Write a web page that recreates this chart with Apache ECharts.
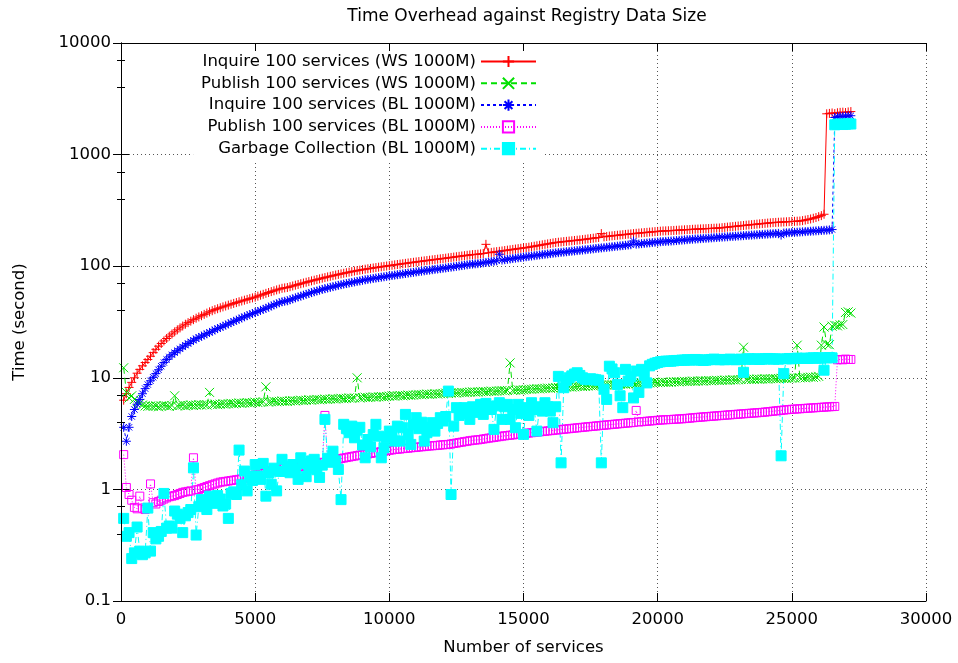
<!DOCTYPE html>
<html>
<head>
<meta charset="utf-8">
<script src="https://cdn.jsdelivr.net/npm/echarts/dist/echarts.min.js"></script>
<style>
  html, body { margin: 0; padding: 0; background: #fff; }
  #chart { width: 958px; height: 663px; }
</style>
</head>
<body>
<div id="chart"></div>
<script>
// one measurement every 100 services, first at 100
var STEP = 100;

// Inquire 100 services (WS 1000M)
var inquireWS = [
  6.3, 7.2, 8.2, 9.1, 10.0, 11.0, 11.9, 12.8, 13.7, 14.6,
  15.6, 16.8, 18.0, 19.2, 20.3, 21.4, 22.5, 23.6, 24.7, 25.8,
  26.9, 28.0, 29.1, 30.2, 31.2, 32.2, 33.2, 34.2, 35.1, 36.0,
  37.0, 38.0, 39.0, 39.9, 40.8, 41.6, 42.4, 43.2, 44.0, 44.8,
  45.6, 46.4, 47.2, 48.0, 48.8, 49.6, 50.4, 51.2, 52.0, 52.8,
  53.9, 55.0, 56.0, 57.1, 58.1, 59.2, 60.2, 61.3, 62.3, 63.4, 63.9,
  64.4, 65.5, 66.5, 67.6, 68.6, 69.7, 70.7, 71.8, 72.8, 73.9,
  74.9, 76.0, 77.0, 78.1, 79.1, 80.2, 81.2, 82.3, 83.3, 84.4,
  85.4, 86.4, 87.4, 88.4, 89.4, 90.4, 91.3, 92.2, 93.1, 94.0,
  94.8, 95.6, 96.4, 97.2, 98.0, 98.8, 99.6, 100.4, 101.2, 102.0,
  102.8, 103.6, 104.4, 105.2, 106.0, 106.8, 107.6, 108.4, 109.2, 110.0,
  110.8, 111.6, 112.4, 113.2, 114.0, 114.8, 115.6, 116.4, 117.2, 118.0,
  118.9, 119.8, 120.7, 121.6, 122.5, 123.4, 124.3, 125.2, 126.1, 127.0, 127.5,
  128.0, 129.0, 130.0, 157.0, 132.0, 133.0, 134.0, 135.0, 136.0, 137.0,
  138.1, 139.2, 140.3, 141.4, 142.5, 143.6, 144.7, 145.8, 146.9, 148.0,
  149.5, 151.0, 152.5, 154.0, 155.5, 157.0, 158.5, 160.0, 161.5, 163.0,
  164, 165, 166, 167, 168, 169, 170, 171, 172, 173,
  174.3, 175.6, 176.9, 178.2, 179.5, 180.8, 196.0, 183.4, 184.7, 186.0,
  187.1, 188.2, 189.3, 190.4, 191.5, 192.6, 193.7, 194.8, 195.9, 197.0,
  198, 199, 200, 201, 202, 203, 204, 205, 206, 207, 207.3,
  207.7, 208.4, 209.1, 209.8, 210.5, 211.2, 211.9, 212.6, 213.3, 214.0,
  214.6, 215.2, 215.8, 216.4, 217.0, 217.6, 218.2, 218.8, 219.4, 220.0,
  221.3, 222.6, 223.9, 225.2, 226.5, 227.8, 229.1, 230.4, 231.7, 233.0,
  234.3, 235.6, 236.9, 238.2, 239.5, 240.8, 242.1, 243.4, 244.7, 246.0,
  246.8, 247.6, 248.4, 249.2, 250.0, 250.8, 251.6, 252.4, 253.2, 254.0,
  256, 259, 262, 265, 269, 273, 278, 284, 292, 2320,
  2340, 2360, 2330, 2370, 2390, 2400, 2380, 2410, 2430
];

// Publish 100 services (WS 1000M)
var publishWS = [
  12.3, 7.4, 6.6, 6.9, 6.4, 6.1, 5.9, 5.7, 5.6, 5.55,
  5.6, 5.55, 5.6, 5.5, 5.6, 5.65, 5.6, 5.55, 5.65, 6.9,
  5.6, 5.65, 5.7, 5.6, 5.65, 5.7, 5.65, 5.7, 5.75, 5.7,
  5.75, 5.7, 7.4, 5.75, 5.8, 5.75, 5.8, 5.85, 5.8, 5.85,
  5.9, 5.85, 5.9, 5.95, 5.9, 5.95, 6.0, 5.95, 6.0, 6.05,
  6.0, 6.05, 6.1, 8.3, 6.05, 6.1, 6.15, 6.1, 6.15, 6.2, 6.15,
  6.15, 6.2, 6.25, 6.2, 6.25, 6.3, 6.25, 6.3, 6.35, 6.3,
  6.35, 6.4, 6.35, 6.4, 6.45, 6.4, 6.45, 6.5, 6.45, 6.5,
  6.55, 6.5, 6.55, 6.6, 6.55, 6.6, 10.0, 6.6, 6.65, 6.7,
  6.65, 6.7, 6.75, 6.7, 6.75, 6.8, 6.75, 6.8, 6.85, 6.9,
  6.85, 6.9, 6.95, 6.9, 6.95, 7.0, 6.95, 7.0, 7.05, 7.1,
  7.05, 7.1, 7.15, 7.1, 7.15, 7.2, 7.15, 7.2, 7.25, 7.3,
  7.25, 7.3, 7.35, 7.3, 7.35, 7.4, 7.35, 7.4, 7.45, 7.5, 7.45,
  7.45, 7.5, 7.55, 7.5, 7.55, 7.6, 7.55, 7.6, 7.65, 7.7,
  7.65, 7.7, 13.6, 7.7, 7.75, 7.8, 7.75, 7.8, 7.85, 7.9,
  7.9, 7.95, 8.0, 7.95, 8.0, 8.05, 8.1, 8.05, 8.1, 8.15,
  8.2, 8.15, 8.2, 8.25, 8.3, 8.25, 8.3, 8.35, 8.4, 8.35,
  8.4, 8.45, 8.5, 8.45, 8.5, 8.55, 8.6, 8.55, 8.6, 8.65,
  8.7, 8.65, 8.7, 8.75, 8.8, 8.75, 8.8, 8.85, 8.9, 8.85,
  8.9, 8.95, 9.0, 8.95, 9.0, 9.05, 9.1, 9.05, 9.1, 9.15, 9.1,
  9.1, 9.15, 9.2, 9.25, 9.2, 9.25, 9.3, 9.25, 9.3, 9.35,
  9.3, 9.35, 9.4, 9.35, 9.4, 9.45, 9.4, 9.45, 9.5, 9.45,
  9.5, 9.55, 9.5, 9.55, 9.6, 9.55, 9.6, 9.65, 18.8, 9.65,
  9.7, 9.65, 9.7, 9.75, 9.7, 9.75, 9.8, 9.75, 9.8, 9.85,
  9.8, 9.85, 9.9, 9.85, 9.9, 9.95, 9.9, 9.95, 19.6, 10.0,
  10.05, 10.0, 10.1, 10.15, 10.1, 10.2, 10.3, 19.6, 28.5, 20.0,
  19.8, 29.0, 29.5, 29.2, 29.8, 30.0, 38.5, 39.0, 38.0
];

// Inquire 100 services (BL 1000M)
var inquireBL = [
  3.6, 2.7, 3.6, 4.5, 5.2, 5.8, 6.4, 7.2, 8.0, 8.7,
  9.4, 10.1, 10.9, 11.8, 12.7, 13.7, 14.6, 15.4, 16.1, 16.8,
  17.5, 18.2, 18.9, 19.6, 20.3, 21.0, 21.7, 22.4, 23.0, 23.6,
  24.2, 24.8, 25.5, 26.2, 26.9, 27.6, 28.3, 29.0, 29.7, 30.4,
  31.2, 32.0, 32.8, 33.6, 34.4, 35.2, 36.0, 36.8, 37.6, 38.4,
  39.3, 40.2, 41.1, 42.0, 43.0, 44.0, 45.0, 46.0, 47.0, 48.0, 48.5,
  49.0, 50.0, 51.0, 52.0, 53.0, 54.0, 55.0, 56.0, 57.0, 58.0,
  59.0, 60.0, 61.0, 62.0, 62.9, 63.8, 64.7, 65.6, 66.5, 67.4,
  68.3, 69.1, 69.9, 70.7, 71.5, 72.3, 73.1, 73.9, 74.7, 75.5,
  76.2, 76.9, 77.6, 78.3, 79.0, 79.7, 80.4, 81.1, 81.8, 82.5,
  83.2, 83.9, 84.6, 85.3, 86.0, 86.7, 87.4, 88.1, 88.8, 89.5,
  90.2, 90.9, 91.6, 92.3, 93.0, 93.7, 94.4, 95.1, 95.8, 96.5,
  97.3, 98.1, 98.9, 99.7, 100.5, 101.3, 102.1, 102.9, 103.7, 104.5, 105.0,
  105.4, 106.3, 107.2, 108.1, 109.0, 109.9, 110.8, 111.7, 128.0, 113.5,
  114.4, 115.3, 116.2, 117.1, 118.0, 118.9, 119.8, 120.7, 121.6, 122.5,
  123.4, 124.3, 125.2, 126.1, 127.0, 127.9, 128.8, 129.7, 130.6, 131.5,
  132.3, 133.1, 133.9, 134.7, 135.5, 136.3, 137.1, 137.9, 138.7, 139.5,
  140.4, 141.3, 142.2, 143.1, 144.0, 144.9, 145.8, 146.7, 147.6, 148.5,
  149.4, 150.3, 151.2, 152.1, 153.0, 153.9, 154.8, 155.7, 168.0, 157.5,
  158.4, 159.3, 160.2, 161.1, 162.0, 162.9, 163.8, 164.7, 165.6, 166.5, 166.9,
  167.3, 168.1, 168.9, 169.7, 170.5, 171.3, 172.1, 172.9, 173.7, 174.5,
  175.2, 175.9, 176.6, 177.3, 178.0, 178.7, 179.4, 180.1, 180.8, 181.5,
  182.2, 182.9, 183.6, 184.3, 185.0, 185.7, 186.4, 187.1, 187.8, 188.5,
  189.2, 189.9, 190.6, 191.3, 192.0, 192.7, 193.4, 194.1, 194.8, 195.5,
  196.2, 196.9, 190.0, 198.3, 199.0, 199.7, 200.4, 201.1, 201.8, 202.5,
  203.3, 204.1, 204.9, 205.7, 206.5, 207.3, 208.1, 208.9, 209.7, 210.5,
  211.5, 213.0, 2150, 2180, 2200, 2190, 2210, 2220, 2230
];

// Publish 100 services (BL 1000M)
var publishBL = [
  2.05, 1.04, 0.90, 0.80, 0.69, 0.67, 0.87, 0.68, 0.66, 0.68,
  1.12, 0.76, 0.74, 0.78, 0.80, 0.82, 0.84, 0.86, 0.87, 0.88,
  0.90, 0.92, 0.94, 0.95, 0.96, 0.97, 1.92, 0.99, 1.00, 1.02,
  1.04, 1.06, 1.08, 1.10, 1.12, 1.14, 1.16, 1.17, 1.18, 1.19,
  1.20, 1.21, 1.22, 1.23, 1.24, 1.26, 1.28, 1.30, 1.32, 1.35,
  1.37, 1.39, 1.41, 1.43, 1.45, 1.47, 1.49, 1.51, 1.53, 1.54, 1.55,
  1.55, 1.56, 1.57, 1.58, 1.59, 1.60, 1.62, 1.63, 1.65, 1.67,
  1.69, 1.71, 1.73, 1.75, 4.60, 1.79, 1.81, 1.83, 1.85, 1.87,
  1.89, 1.91, 1.93, 1.95, 1.97, 1.99, 2.01, 2.03, 2.05, 2.07,
  2.08, 2.10, 2.12, 2.14, 2.16, 2.18, 2.20, 2.22, 2.24, 2.26,
  2.28, 2.29, 2.30, 2.32, 2.33, 2.34, 2.36, 2.37, 2.38, 2.40,
  2.41, 2.42, 2.44, 2.45, 2.46, 2.47, 2.48, 2.50, 2.51, 2.52,
  2.53, 2.55, 2.58, 2.60, 2.63, 2.65, 2.68, 2.70, 2.73, 2.75, 2.77,
  2.78, 2.80, 2.83, 2.85, 2.88, 2.90, 2.92, 2.95, 2.97, 3.00,
  3.02, 3.04, 3.06, 3.08, 3.10, 3.12, 3.14, 3.16, 3.18, 3.20,
  3.22, 3.24, 3.26, 3.28, 3.30, 3.32, 3.34, 3.36, 3.38, 3.40,
  3.42, 3.44, 3.46, 3.48, 3.50, 3.52, 3.54, 3.56, 3.58, 3.60,
  3.62, 3.64, 3.66, 3.68, 3.70, 3.72, 3.74, 3.76, 3.78, 3.80,
  3.82, 3.84, 3.86, 3.88, 3.90, 3.92, 3.94, 3.96, 3.98, 5.10,
  4.02, 4.04, 4.06, 4.08, 4.10, 4.12, 4.14, 4.16, 4.18, 4.20, 4.21,
  4.22, 4.23, 4.25, 4.26, 4.28, 4.29, 4.31, 4.33, 4.35, 4.38,
  4.40, 4.42, 4.44, 4.46, 4.48, 4.50, 4.52, 4.54, 4.56, 4.58,
  4.60, 4.62, 4.64, 4.66, 4.68, 4.70, 4.72, 4.74, 4.76, 4.78,
  4.80, 4.82, 4.84, 4.86, 4.88, 4.90, 4.93, 4.96, 4.99, 5.02,
  5.05, 5.08, 5.11, 5.14, 5.17, 5.20, 5.22, 5.24, 5.26, 5.28,
  5.30, 5.32, 5.34, 5.36, 5.38, 5.40, 5.42, 5.44, 5.46, 5.48,
  5.50, 5.52, 5.54, 14.5, 14.6, 14.5, 14.7, 14.6, 14.6
];

// Garbage Collection (BL 1000M)
var garbageBL = [
  0.55, 0.38, 0.41, 0.24, 0.27, 0.46, 0.28, 0.26, 0.27, 0.68,
  0.28, 0.41, 0.36, 0.38, 0.42, 0.92, 0.45, 0.47, 0.45, 0.64,
  0.60, 0.55, 0.41, 0.58, 0.62, 0.66, 1.56, 0.39, 0.70, 0.81,
  0.72, 0.66, 0.87, 0.80, 0.75, 0.88, 0.82, 0.71, 0.74, 0.55,
  0.92, 0.95, 0.90, 2.25, 1.10, 1.46, 0.97, 1.32, 1.20, 1.67,
  1.32, 1.23, 1.71, 0.87, 1.40, 1.11, 1.55, 0.97, 1.45, 1.86, 1.45,
  1.60, 1.41, 1.67, 1.50, 1.23, 1.92, 1.70, 1.30, 1.55, 1.80,
  1.86, 1.50, 1.28, 1.65, 4.24, 1.90, 1.75, 2.20, 1.80, 1.51,
  0.81, 3.83, 3.50, 3.22, 3.69, 2.90, 3.40, 3.60, 2.50, 1.92,
  2.80, 2.40, 3.10, 3.83, 3.00, 1.92, 2.36, 2.90, 3.33, 3.00,
  2.71, 3.69, 2.71, 3.57, 4.70, 3.11, 2.53, 3.80, 4.39, 3.50,
  4.00, 2.71, 3.22, 3.60, 3.96, 3.33, 3.90, 4.39, 4.10, 4.50,
  7.60, 0.90, 3.69, 5.40, 4.60, 5.00, 5.40, 4.80, 4.24, 5.50, 4.90,
  5.40, 5.78, 4.70, 5.90, 5.50, 5.20, 3.45, 5.60, 5.98, 4.24,
  5.50, 5.78, 4.24, 5.20, 3.57, 5.78, 4.80, 3.11, 5.40, 4.60,
  5.98, 5.20, 3.33, 5.50, 5.03, 5.98, 5.50, 5.03, 3.96, 5.50,
  10.3, 1.73, 8.15, 9.5, 10.0, 10.4, 10.8, 11.1, 10.5, 10.0,
  9.7, 9.6, 9.8, 9.7, 9.6, 9.5, 1.73, 7.9, 6.4, 12.7,
  12.0, 11.1, 8.7, 6.9, 5.4, 11.9, 9.35, 10.2, 6.6, 11.5,
  7.4, 11.9, 10.5, 9.0, 12.8, 13.2, 13.5, 13.7, 13.9, 14.0, 14.1,
  14.1, 14.1, 14.2, 14.3, 14.3, 14.4, 14.4, 14.5, 14.4, 14.5,
  14.6, 14.5, 14.4, 14.3, 14.4, 14.5, 14.6, 14.7, 14.6, 14.5,
  14.6, 14.5, 14.6, 14.7, 14.6, 14.5, 14.6, 14.7, 11.2, 14.7,
  14.8, 14.7, 14.7, 14.8, 14.6, 14.7, 14.8, 14.9, 14.8, 14.7,
  14.8, 14.7, 2.0, 10.9, 14.8, 14.9, 14.8, 14.9, 15.0, 14.9,
  14.9, 15.0, 14.9, 15.0, 15.1, 15.0, 15.1, 15.0, 11.7, 15.1,
  15.2, 15.1, 1850, 1870, 1880, 1860, 1870, 1890, 1880
];

var seriesNames = [
  'Inquire 100 services (WS 1000M)',
  'Publish 100 services (WS 1000M)',
  'Inquire 100 services (BL 1000M)',
  'Publish 100 services (BL 1000M)',
  'Garbage Collection (BL 1000M)'
];

var FONT = 'DejaVu Sans';
var FS = 16.5;

// gnuplot point types
var PLUS = 'path://M0,5L10,5M5,0L5,10';
var CROSS = 'path://M0,0L10,10M10,0L0,10';
var STAR = 'path://M0,5L10,5M5,0L5,10M1.5,1.5L8.5,8.5M8.5,1.5L1.5,8.5';

function toPoints(arr) {
  return arr.map(function (v, i) { return [(i + 1) * STEP, v]; });
}

function makeSeries(name, values, color, symbol, size, dash, fill) {
  return {
    name: name,
    type: 'line',
    data: toPoints(values),
    symbol: symbol,
    symbolSize: size,
    itemStyle: { color: fill, borderColor: color, borderWidth: 1 },
    lineStyle: { color: color, width: 1, type: dash },
    emphasis: { disabled: true },
    z: 2
  };
}

function tickLabel(v) {
  return String(+(+v).toPrecision(6));
}

var chart = echarts.init(document.getElementById('chart'));

var option = {
  animation: false,
  backgroundColor: '#fff',
  title: {
    text: 'Time Overhead against Registry Data Size',
    left: 527,
    top: 8,
    padding: 0,
    textAlign: 'center',
    textStyle: { fontFamily: FONT, fontSize: 17, fontWeight: 'normal', color: '#000' }
  },
  legend: {
    orient: 'vertical',
    align: 'right',
    right: 413,
    top: 44,
    padding: [9, 8, 4, 8],
    itemWidth: 55,
    itemHeight: 14,
    itemGap: 4.8,
    backgroundColor: '#fff',
    selectedMode: false,
    textStyle: { fontFamily: FONT, fontSize: FS, color: '#000', lineHeight: 14 },
    data: seriesNames
  },
  grid: { left: 121, right: 32, top: 43, bottom: 62 },
  xAxis: [{
    type: 'value',
    min: 0, max: 30000, interval: 5000,
    name: 'Number of services',
    nameLocation: 'middle',
    nameGap: 38,
    nameTextStyle: { fontFamily: FONT, fontSize: FS, color: '#000' },
    axisLine: { lineStyle: { color: '#000', width: 1 } },
    axisTick: { inside: true, length: 8, lineStyle: { color: '#000' } },
    axisLabel: { fontFamily: FONT, fontSize: FS, color: '#000', margin: 10, formatter: tickLabel },
    splitLine: { show: true, lineStyle: { color: '#555', width: 1, type: [1, 3] } }
  }, {
    type: 'value',
    position: 'top',
    min: 0, max: 30000, interval: 5000,
    z: 10,
    axisLine: { lineStyle: { color: '#000', width: 1 } },
    axisTick: { inside: true, length: 8, lineStyle: { color: '#000' } },
    axisLabel: { show: false },
    splitLine: { show: false }
  }],
  yAxis: [{
    type: 'log',
    logBase: 10,
    min: 0.1, max: 10000,
    name: 'Time (second)',
    nameLocation: 'middle',
    nameGap: 93,
    nameTextStyle: { fontFamily: FONT, fontSize: FS, color: '#000' },
    axisLine: { lineStyle: { color: '#000', width: 1 } },
    axisTick: { inside: true, length: 8, lineStyle: { color: '#000' } },
    minorTick: { show: true, splitNumber: 3, length: 4, lineStyle: { color: '#000' } },
    axisLabel: { fontFamily: FONT, fontSize: FS, color: '#000', margin: 10, formatter: tickLabel },
    splitLine: { show: true, lineStyle: { color: '#555', width: 1, type: [1, 3] } }
  }, {
    type: 'log',
    logBase: 10,
    position: 'right',
    min: 0.1, max: 10000,
    z: 10,
    axisLine: { lineStyle: { color: '#000', width: 1 } },
    axisTick: { inside: true, length: 8, lineStyle: { color: '#000' } },
    minorTick: { show: true, splitNumber: 3, length: 4, lineStyle: { color: '#000' } },
    axisLabel: { show: false },
    splitLine: { show: false }
  }],
  series: [
    makeSeries(seriesNames[0], inquireWS, '#ff0000', PLUS, 9, 'solid', '#ff0000'),
    makeSeries(seriesNames[1], publishWS, '#00e000', CROSS, 9, [6, 4], '#00e000'),
    makeSeries(seriesNames[2], inquireBL, '#0000ff', STAR, 9, [3, 3], '#0000ff'),
    makeSeries(seriesNames[3], publishBL, '#ff00ff', 'rect', 8, [1, 2], 'rgba(0,0,0,0)'),
    makeSeries(seriesNames[4], garbageBL, '#00ffff', 'rect', 10, [6, 3, 1, 3], '#00ffff')
  ]
};

chart.setOption(option);
</script>
</body>
</html>
